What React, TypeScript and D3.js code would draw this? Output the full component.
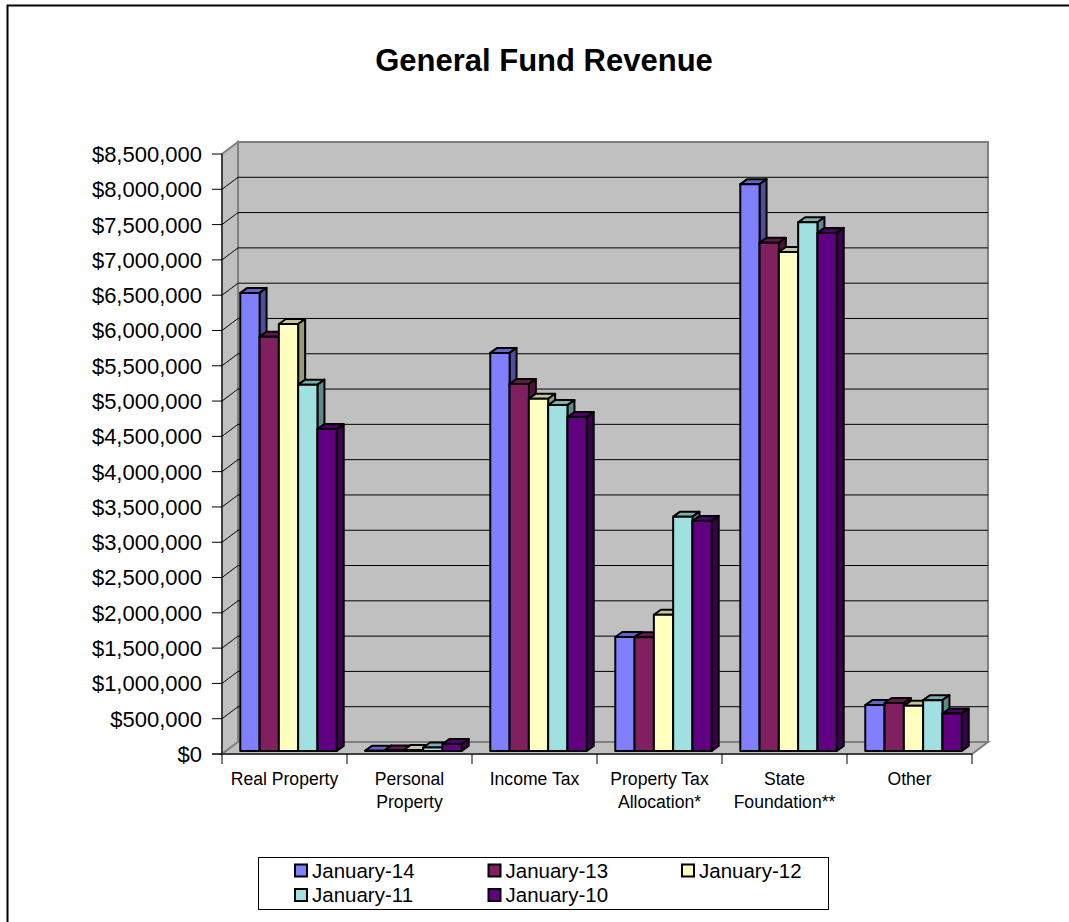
import * as d3 from 'd3';

const categories = ['Real Property', 'Personal Property', 'Income Tax', 'Property Tax Allocation*', 'State Foundation**', 'Other'];
const categoryLines = [['Real Property'], ['Personal', 'Property'], ['Income Tax'], ['Property Tax', 'Allocation*'], ['State', 'Foundation**'], ['Other']];
const seriesNames = ['January-14', 'January-13', 'January-12', 'January-11', 'January-10'];
const seriesColors = ['#8080FF', '#802060', '#FFFFC0', '#A0E0E0', '#600080'];
const jan14 = [6490000, 5000, 5640000, 1615000, 8030000, 650000];
const jan13 = [5870000, 8000, 5200000, 1610000, 7200000, 680000];
const jan12 = [6050000, 15000, 4990000, 1930000, 7070000, 640000];
const jan11 = [5190000, 50000, 4900000, 3320000, 7490000, 720000];
const jan10 = [4560000, 100000, 4730000, 3260000, 7340000, 530000];
const seriesValues = [jan14, jan13, jan12, jan11, jan10];
const yTicks = d3.range(0, 8500001, 500000);

const width = 1069;
const height = 922;
const font = '"Liberation Sans", Arial, sans-serif';

// front plane of the fake 3d box, back wall sits at an offset
const left = 222;
const right = 972;
const top = 154;
const bottom = 754;
const wallX = 16;
const wallY = 12;
const barDepthX = 7;
const barDepthY = 5;
const barShiftX = 4;
const barShiftY = 3;

const App = () => {
  const y = d3.scaleLinear().domain([0, 8500000]).range([bottom, top]);
  const xAxis = d3.scaleBand<string>().domain(categories).range([left, right]);
  const xBar = d3.scaleBand<number>().domain(d3.range(seriesNames.length)).range([0, xAxis.bandwidth()]).paddingOuter(0.74).paddingInner(0);
  const fmt = (v: number) => '$' + d3.format(',')(v);
  const shade = (c: string, k: number) => d3.rgb(c).darker(k).formatHex();

  return (
    <svg width={width} height={height} style={{ position: 'absolute', left: 0, top: 0, background: '#fff' }}>
      <path d={`M7.5,${height}V5.5H${width}`} fill="none" stroke="#000" strokeWidth={2} />
      <text x={544} y={71} textAnchor="middle" fontFamily={font} fontWeight="bold" fontSize={31} fill="#000">General Fund Revenue</text>

      {/* walls and floor */}
      <polygon points={`${left},${bottom} ${left},${top} ${left + wallX},${top - wallY} ${left + wallX},${bottom - wallY}`} fill="#C0C0C0" stroke="#808080" strokeWidth={2} />
      <rect x={left + wallX} y={top - wallY} width={right - left} height={bottom - top} fill="#C0C0C0" stroke="#808080" strokeWidth={2} />
      <polygon points={`${left},${bottom} ${right},${bottom} ${right + wallX},${bottom - wallY} ${left + wallX},${bottom - wallY}`} fill="#C0C0C0" stroke="#808080" strokeWidth={2} />

      {yTicks.filter((t) => t > 0 && t < 8500000).map((t) => (
        <path key={t} d={`M${left},${y(t)}L${left + wallX},${y(t) - wallY}H${right + wallX}`} fill="none" stroke="#000" strokeWidth={1} />
      ))}

      {/* axes */}
      <line x1={left} x2={left} y1={top} y2={bottom} stroke="#000" />
      <line x1={left - 10} x2={right} y1={bottom} y2={bottom} stroke="#000" />
      {yTicks.map((t) => (
        <g key={t}>
          <line x1={left - 10} x2={left} y1={y(t)} y2={y(t)} stroke="#000" />
          <text x={left - 20} y={y(t)} dy="0.36em" textAnchor="end" fontFamily={font} fontSize={22} fill="#000">{fmt(t)}</text>
        </g>
      ))}
      {d3.range(categories.length + 1).map((i) => {
        const tx = left + i * xAxis.step();
        return <line key={i} x1={tx} x2={tx} y1={bottom} y2={bottom + 10} stroke="#000" />;
      })}
      {categories.map((c, i) => (
        <text key={c} textAnchor="middle" fontFamily={font} fontSize={17.6} fill="#000">
          {categoryLines[i].map((ln, j) => (
            <tspan key={ln} x={(xAxis(c) as number) + xAxis.bandwidth() / 2} y={785 + j * 23}>{ln}</tspan>
          ))}
        </text>
      ))}

      {/* bars, left to right so the next front covers the previous side */}
      {categories.map((c, ci) => (
        <g key={c}>
          {seriesNames.map((s, si) => {
            const x0 = (xAxis(c) as number) + (xBar(si) as number) + barShiftX;
            const x1 = x0 + xBar.bandwidth();
            const base = y(0) - barShiftY;
            const yt = y(seriesValues[si][ci]) - barShiftY;
            const color = seriesColors[si];
            return (
              <g key={s} stroke="#000" strokeWidth={2} strokeLinejoin="round">
                <polygon points={`${x0},${yt} ${x1},${yt} ${x1 + barDepthX},${yt - barDepthY} ${x0 + barDepthX},${yt - barDepthY}`} fill={shade(color, 0.7)} />
                <polygon points={`${x1},${yt} ${x1 + barDepthX},${yt - barDepthY} ${x1 + barDepthX},${base - barDepthY} ${x1},${base}`} fill={shade(color, 1.4)} />
                <rect x={x0} y={yt} width={x1 - x0} height={base - yt} fill={color} />
              </g>
            );
          })}
        </g>
      ))}

      {/* legend */}
      <rect x={258.5} y={857.5} width={570} height={52} fill="#fff" stroke="#000" />
      {seriesNames.map((s, i) => {
        const lx = 295 + (i % 3) * 193.5;
        const ly = 870.5 + Math.floor(i / 3) * 24.5;
        return (
          <g key={s}>
            <rect x={lx} y={ly - 6} width={12} height={12} fill={seriesColors[i]} stroke="#000" strokeWidth={2} />
            <text x={lx + 17} y={ly} dy="0.36em" fontFamily={font} fontSize={20.5} fill="#000">{s}</text>
          </g>
        );
      })}
    </svg>
  );
};

export default App;
